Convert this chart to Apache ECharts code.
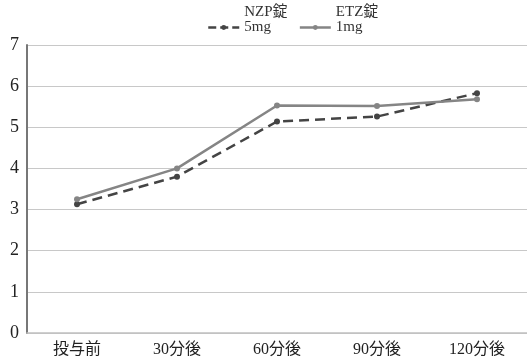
<!DOCTYPE html>
<html><head><meta charset="utf-8">
<script src="https://cdn.jsdelivr.net/npm/echarts@6/dist/echarts.min.js"></script>
<style>html,body{margin:0;padding:0;background:#fff}#c{width:527px;height:360px}</style>
</head><body><div id="c"></div>
<script>
const categories = ['投与前', '30分後', '60分後', '90分後', '120分後'];
const nzp = [3.13, 3.80, 5.14, 5.26, 5.83];
const etz = [3.25, 4.00, 5.53, 5.52, 5.68];
const yTicks = [0, 1, 2, 3, 4, 5, 6, 7];
const seriesNames = ['NZP錠\n5mg', 'ETZ錠\n1mg'];

const font = '"Liberation Serif", "DejaVu Serif", "Noto Sans CJK JP", serif';
const chart = echarts.init(document.getElementById('c'));
chart.setOption({
  animation: false,
  textStyle: { fontFamily: font },
  legend: {
    top: 0, left: 202, itemWidth: 31, itemHeight: 6, itemGap: 11,
    // trailing blank line keeps the icon level with the dose line
    formatter: name => name + '\n ',
    textStyle: { fontFamily: font, fontSize: 15, color: '#333', lineHeight: 15 },
    data: [
      { name: seriesNames[0], lineStyle: { type: [8, 4], width: 2.5 } },
      { name: seriesNames[1], lineStyle: { width: 2.5 } }
    ]
  },
  grid: { left: 27, right: -7, top: 45, bottom: 27, containLabel: false },
  xAxis: {
    type: 'category', data: categories, boundaryGap: true,
    axisLine: { lineStyle: { color: '#c0c0c0', width: 1.5 } },
    axisTick: { show: false },
    axisLabel: { color: '#222', fontSize: 16, fontFamily: font, margin: 9 }
  },
  yAxis: {
    type: 'value', min: yTicks[0], max: yTicks[yTicks.length - 1], interval: 1,
    axisLine: { show: true, lineStyle: { color: '#777', width: 2 } },
    axisTick: { show: false },
    axisLabel: { color: '#222', fontSize: 18, fontFamily: font, margin: 8 },
    splitLine: { lineStyle: { color: '#c8c8c8', width: 1.2 } }
  },
  series: [
    {
      name: seriesNames[0], type: 'line', data: nzp,
      symbol: 'circle', symbolSize: 6,
      itemStyle: { color: '#444' },
      lineStyle: { color: '#444', width: 2.5, type: [10, 6] }
    },
    {
      name: seriesNames[1], type: 'line', data: etz,
      symbol: 'circle', symbolSize: 6,
      itemStyle: { color: '#858585' },
      lineStyle: { color: '#858585', width: 2.5 }
    }
  ]
});
</script></body></html>
